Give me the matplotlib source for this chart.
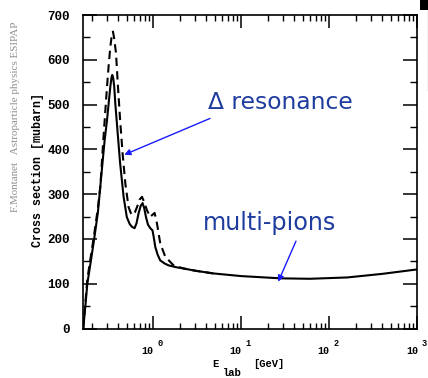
import matplotlib
matplotlib.use("Agg")
import matplotlib.pyplot as plt
import matplotlib.transforms as mtransforms
from matplotlib.ticker import MultipleLocator, LogLocator, NullFormatter
import matplotlib.patches as mpatches
import matplotlib.lines as mlines

# ---- data ----
E_solid = [0.16, 0.17, 0.178, 0.195, 0.213, 0.235, 0.26, 0.28, 0.298, 0.312, 0.325,
           0.335, 0.342, 0.35, 0.36, 0.37, 0.397, 0.42, 0.46, 0.50, 0.54, 0.573,
           0.613, 0.645, 0.68, 0.72, 0.756, 0.79, 0.826, 0.87, 0.924, 0.98, 1.02,
           1.054, 1.12, 1.2, 1.35, 1.49, 1.8, 2.21, 3.0, 4.8, 10, 28, 60, 160, 400, 1000]
sig_solid = [0, 55, 100, 150, 200, 260, 353, 420, 465, 505, 540,
             560, 566, 560, 540, 503, 428, 369, 294, 249, 233, 227,
             224, 235, 257, 274, 280, 268, 249, 232, 224, 219, 200,
             182, 165, 152, 145, 141, 137, 134, 129, 123, 117, 112, 111, 114, 122, 132]

E_dash = [0.16, 0.178, 0.213, 0.235, 0.25, 0.272, 0.298, 0.312, 0.325, 0.338, 0.348,
          0.358, 0.377, 0.397, 0.42, 0.448, 0.481, 0.524, 0.555, 0.582, 0.62, 0.653,
          0.70, 0.744, 0.79, 0.848, 0.924, 0.98, 1.035, 1.10, 1.2, 1.37, 1.7, 2.21, 3.0, 4.8]
sig_dash = [0, 110, 210, 270, 316, 428, 540, 590, 629, 655, 663,
            650, 615, 540, 465, 391, 324, 271, 258, 253, 260, 271,
            288, 294, 282, 264, 249, 254, 258, 235, 190, 160, 141, 134, 129, 123]

xtick_exponents = [0, 1, 2, 3]
ytick_values = [0, 100, 200, 300, 400, 500, 600, 700]

W, H = 428, 378
fig = plt.figure(figsize=(W / 100, H / 100), dpi=100)
ax = fig.add_axes([83 / W, 1 - 328.5 / H, (417.3 - 83) / W, (328.5 - 15) / H])

ax.plot(E_solid, sig_solid, color='black', lw=1.5, solid_joinstyle='round')
ax.plot(E_dash, sig_dash, color='black', lw=1.5, dashes=(4, 2.5))

ax.set_xscale('log')
ax.set_xlim(0.159, 1000)
ax.set_ylim(0, 700)

for s in ax.spines.values():
    s.set_linewidth(1.2)

ax.set_yticks(ytick_values)
ax.set_yticklabels([str(v) for v in ytick_values], fontfamily='Liberation Mono',
                   fontweight='bold', fontsize=9)
ax.yaxis.set_minor_locator(MultipleLocator(50))
ax.xaxis.set_major_locator(LogLocator(base=10, numticks=10))
ax.xaxis.set_minor_locator(LogLocator(base=10, subs=range(2, 10), numticks=20))
ax.xaxis.set_major_formatter(NullFormatter())
ax.xaxis.set_minor_formatter(NullFormatter())
ax.tick_params(axis='y', which='major', direction='in', length=10, width=1.1,
               left=True, right=True, pad=9.4)
ax.tick_params(axis='y', which='minor', direction='in', length=5, width=1.0,
               left=True, right=True)
ax.tick_params(axis='x', which='major', direction='in', length=9.4, width=1.1,
               bottom=True, top=True)
ax.tick_params(axis='x', which='minor', direction='in', length=4.3, width=1.0,
               bottom=True, top=True)

# x tick labels "10" with superscript exponent
for e in xtick_exponents:
    tb = mtransforms.offset_copy(ax.get_xaxis_transform(), fig=fig, x=0.5, y=-22.5, units='dots')
    ax.text(10.0 ** e, 0, '10', transform=tb, ha='right', va='center',
            fontfamily='Liberation Mono', fontweight='bold', fontsize=7.2, clip_on=False)
    te = mtransforms.offset_copy(ax.get_xaxis_transform(), fig=fig, x=4.5, y=-14.5, units='dots')
    ax.text(10.0 ** e, 0, str(e), transform=te, ha='left', va='center',
            fontfamily='Liberation Mono', fontweight='bold', fontsize=6.2, clip_on=False)

# x label
mono = dict(fontfamily='Liberation Mono', fontweight='bold', fontsize=7.6)
fig.text(215 / W, 1 - 364 / H, 'E', ha='center', va='center', **mono)
fig.text(232 / W, 1 - 373 / H, 'lab', ha='center', va='center', **mono)
fig.text(253 / W, 1 - 364 / H, '[GeV]', ha='left', va='center', **mono)

# y label
fig.text(38 / W, 1 - 170 / H, 'Cross section [mubarn]', rotation=90, ha='center', va='center',
         fontfamily='Liberation Mono', fontweight='bold', fontsize=8.4)

# credit text
fig.text(16 / W, 1 - 117 / H, 'F.Montanet   Astroparticle physics ESIPAP', rotation=90,
         ha='center', va='center', fontfamily='Liberation Serif', fontsize=7.9, color='#8f8f8f')

# annotations
txt_col = '#1f3d9e'
arr_col = '#1a1aff'
fig.text(208 / W, 1 - 109.3 / H, '\u0394 resonance', ha='left', va='baseline',
         fontfamily='DejaVu Sans', fontsize=16.8, color=txt_col)
fig.text(203 / W, 1 - 230 / H, 'multi-pions', ha='left', va='baseline',
         fontfamily='DejaVu Sans', fontsize=17.2, color=txt_col)
ax.annotate('', xy=(0.468, 388), xytext=(4.41, 469), xycoords='data', textcoords='data',
            arrowprops=dict(arrowstyle='-|>', color=arr_col, lw=1.0, mutation_scale=9,
                            shrinkA=0, shrinkB=0))
ax.annotate('', xy=(26.3, 104.5), xytext=(41.8, 195), xycoords='data', textcoords='data',
            arrowprops=dict(arrowstyle='-|>', color=arr_col, lw=1.0, mutation_scale=9,
                            shrinkA=0, shrinkB=0))

# corner mark at top right
fig.add_artist(mpatches.Rectangle((420 / W, 1 - 10 / H), 8 / W, 10 / H, transform=fig.transFigure,
                                  facecolor='black', edgecolor='none'))
fig.add_artist(mlines.Line2D([427.5 / W, 427.5 / W], [1 - 10 / H, 1 - 90 / H],
                             transform=fig.transFigure, color='black', lw=0.8))

fig.savefig('out.png', dpi=100)
